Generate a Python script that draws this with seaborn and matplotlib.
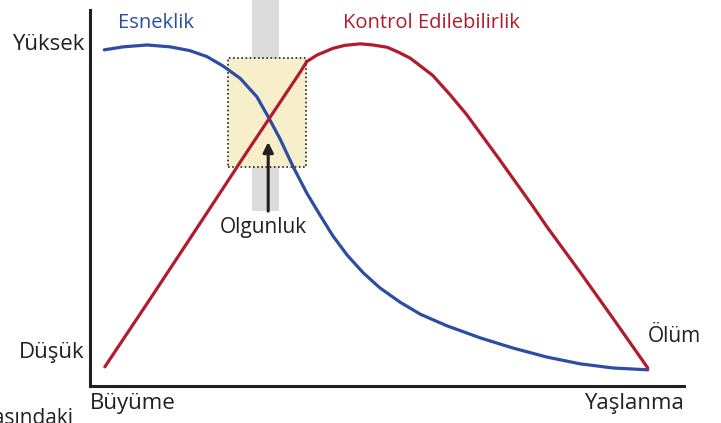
import pandas as pd
import seaborn as sns
import matplotlib.pyplot as plt
from matplotlib.patches import Rectangle

# Yaşam döngüsü: yatay eksen 0 = büyüme, 100 = yaşlanma; dikey eksen 0 = düşük, 100 = yüksek
esneklik_x = [2.4, 5.6, 9.6, 13.5, 16.8, 19.7, 22.4, 25.3, 28.1, 30.0, 32.0, 34.2,
              36.5, 38.7, 40.9, 43.3, 46.0, 48.8, 52.2, 55.6, 60.1, 65.7, 71.2,
              76.9, 82.5, 88.0, 93.9]
esneklik_y = [89.4, 90.2, 90.7, 90.2, 89.2, 87.6, 85.1, 81.8, 76.9, 71.6, 65.7, 58.3,
              51.3, 45.5, 39.9, 34.8, 30.1, 26.1, 22.3, 19.1, 16.0, 12.8, 10.1,
              7.7, 5.9, 4.8, 4.3]

kontrol_x = [2.5, 10.1, 18.5, 26.9, 35.4, 36.5, 38.2, 40.9, 42.9, 45.5, 47.6, 50.0,
             51.9, 53.9, 57.7, 60.6, 63.4, 69.0, 74.6, 76.9, 82.5, 88.0, 93.9]
kontrol_y = [5.1, 23.1, 43.2, 63.4, 83.5, 86.3, 88.0, 89.8, 90.6, 91.0, 90.7, 90.1,
             88.8, 87.2, 82.6, 77.5, 72.2, 60.1, 47.7, 42.4, 30.3, 18.1, 4.8]

# olgunluk bölgesi
olgunluk_x = [23.2, 36.4]
olgunluk_y = [58.2, 87.2]
bant_x = [27.3, 31.8]
bant_y = [46.5, 102.7]
ok_x = 30.0
ok_y = [46.5, 64.9]

seviye_etiket = ["Düşük", "Yüksek"]
seviye_yer = [9.6, 91.6]
asama_etiket = ["Büyüme", "Yaşlanma"]
asama_yer = [0, 100]

MAVI = "#2b4ea2"
KIRMIZI = "#b01c2e"
KOYU = "#231f20"

sns.set_theme(style="white")
plt.rcParams["font.family"] = ["Open Sans", "DejaVu Sans"]

fig = plt.figure(figsize=(7.21, 4.23), dpi=100)
ax = fig.add_axes([90 / 721, 37 / 423, 594 / 721, 376 / 423])

# arka plandaki gri bant ve sarı kutu
ax.add_patch(Rectangle((bant_x[0], bant_y[0]), bant_x[1] - bant_x[0], bant_y[1] - bant_y[0],
                       facecolor="#dcdcdc", edgecolor="none", zorder=0, clip_on=False))
ax.add_patch(Rectangle((olgunluk_x[0], olgunluk_y[0]), olgunluk_x[1] - olgunluk_x[0],
                       olgunluk_y[1] - olgunluk_y[0], facecolor="#f7efc9",
                       edgecolor=KOYU, linestyle=(0, (1, 1.5)), linewidth=1.2, zorder=1))

df_esn = pd.DataFrame({"x": esneklik_x, "y": esneklik_y})
df_kon = pd.DataFrame({"x": kontrol_x, "y": kontrol_y})
sns.lineplot(data=df_esn, x="x", y="y", ax=ax, color=MAVI, linewidth=2.3, zorder=3,
             solid_joinstyle="round")
sns.lineplot(data=df_kon, x="x", y="y", ax=ax, color=KIRMIZI, linewidth=2.3, zorder=3,
             solid_joinstyle="round")

ax.annotate("", xy=(ok_x, ok_y[1]), xytext=(ok_x, ok_y[0]),
            arrowprops=dict(arrowstyle="-|>", color=KOYU, lw=2.2, mutation_scale=15,
                            shrinkA=0, shrinkB=0), zorder=4)

ax.text(4.7, 95.2, "Esneklik", color=MAVI, fontsize=14.5, va="baseline", clip_on=False)
ax.text(42.6, 95.2, "Kontrol Edilebilirlik", color=KIRMIZI, fontsize=14.5, va="baseline",
        clip_on=False)
ax.text(29.2, 40.7, "Olgunluk", color=KOYU, fontsize=15, ha="center", va="baseline")
ax.text(93.9, 11.7, "Ölüm", color=KOYU, fontsize=15, va="baseline", clip_on=False)
fig.text(73 / 721, -1 / 423, "Yaşam döngüsü aşamasındaki", color=KOYU, fontsize=15,
         ha="right", va="baseline")

ax.set_xlim(0, 100)
ax.set_ylim(0, 100)
ax.set_yticks(seviye_yer, seviye_etiket)
ax.set_xticks(asama_yer, asama_etiket)
ax.tick_params(axis="both", length=0, labelsize=16, labelcolor=KOYU)
ax.tick_params(axis="y", pad=4)
ax.tick_params(axis="x", pad=5)
xl = ax.get_xticklabels()
xl[0].set_ha("left")
xl[1].set_ha("right")
ax.set_xlabel("")
ax.set_ylabel("")

for s in ["top", "right"]:
    ax.spines[s].set_visible(False)
for s in ["left", "bottom"]:
    ax.spines[s].set_color(KOYU)
    ax.spines[s].set_linewidth(2.2)

fig.savefig("out.png", dpi=100)
